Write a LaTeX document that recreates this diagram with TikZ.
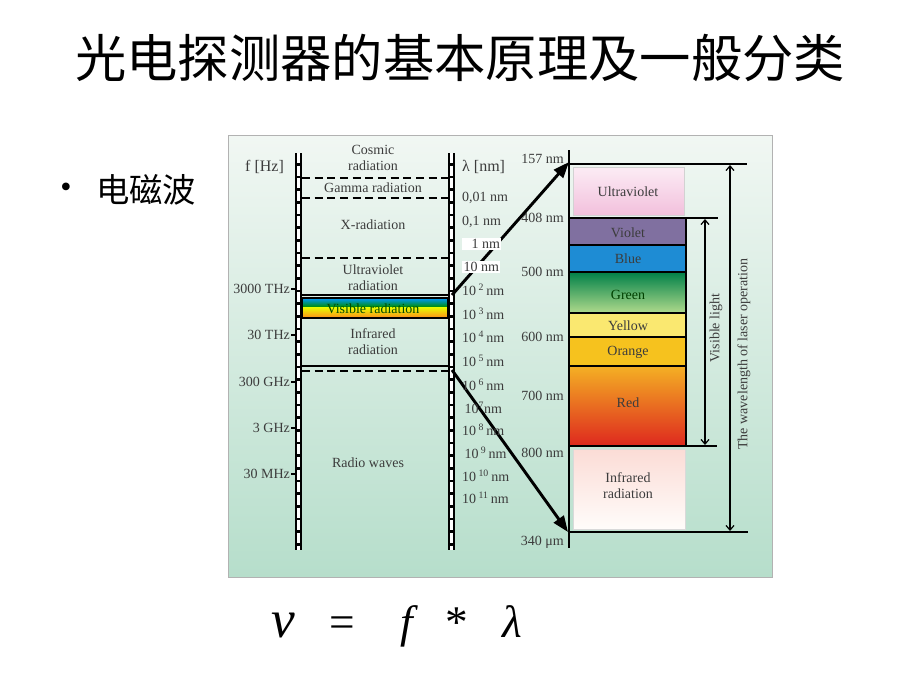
\documentclass[tikz,border=0pt]{standalone}
\usepackage{fontspec}
\setmainfont{Liberation Serif}
\newfontfamily\cjk{Noto Sans CJK SC}
\usetikzlibrary{arrows.meta}
%
\definecolor{bgtop}{RGB}{241,247,243}
\definecolor{bgbot}{RGB}{182,222,203}
\definecolor{txtgray}{RGB}{60,60,60}
\definecolor{uvtop}{RGB}{252,236,245}
\definecolor{uvbot}{RGB}{242,192,220}
\definecolor{violetc}{RGB}{128,112,160}
\definecolor{bluec}{RGB}{30,140,212}
\definecolor{greentop}{RGB}{0,128,72}
\definecolor{greenbot}{RGB}{176,218,140}
\definecolor{yellowc}{RGB}{250,232,112}
\definecolor{orangec}{RGB}{246,194,30}
\definecolor{redtop}{RGB}{244,176,36}
\definecolor{redmid}{RGB}{236,120,52}
\definecolor{redbot}{RGB}{222,40,30}
\definecolor{irtop}{RGB}{251,220,214}
\definecolor{irbot}{RGB}{255,252,250}
%
\begin{document}
\begin{tikzpicture}
[
 x=0.75pt, y=-0.75pt,
 inner sep=0.5mm,
 LBL/.style={font=\fontsize{10.5}{12}\selectfont, text=txtgray, align=center},
 FREQ/.style={LBL, anchor=east},
 WAVE/.style={LBL, anchor=west},
 AXLBL/.style={LBL, anchor=east},
 RAIL/.style={line width=5.6pt, black},
 RAILGAP/.style={line width=1.8pt, white, dash pattern=on 7.5pt off 2pt},
 SEP/.style={line width=1.5pt, black},
 DASHSEP/.style={line width=1.5pt, black, dash pattern=on 6pt off 3.5pt},
 BIGARROW/.style={line width=2.2pt, -{Triangle[length=12pt,width=9pt]}},
 DIMARROW/.style={line width=0.9pt, {Straight Barb[length=3.5pt,width=6pt]}-{Straight Barb[length=3.5pt,width=6pt]}},
 ]
\useasboundingbox (0,0) rectangle (920,690);
%
\node (title) at (460,58) {\cjk\fontsize{38.5}{40}\selectfont 光电探测器的基本原理及一般分类};
\node (dot)   at (66,190) {\fontsize{24}{26}\selectfont •};
\node (emw)   at (146,190) {\cjk\fontsize{25}{28}\selectfont 电磁波};
%
% panel
\shade[top color=bgtop, bottom color=bgbot, draw=gray!60, line width=0.75pt] (228,135) rectangle (772,577);
%
% ladder
\foreach \x in {298.5,451.5}
   {
     \draw[RAIL]    (\x,153) -- (\x,550);
     \draw[RAILGAP] (\x,153) -- (\x,550);
   }
\draw[DASHSEP] (302,178) -- (448,178);
\draw[DASHSEP] (302,198) -- (448,198);
\draw[DASHSEP] (302,258) -- (448,258);
\draw[SEP]     (302,295) -- (448,295);
\shade[top color=cyan!60!blue, bottom color=green!55!black] (302,298) rectangle (448,307);
\shade[top color=yellow!90!green, bottom color=orange!90] (302,307) rectangle (448,318);
\draw[line width=1pt] (302,298) rectangle (448,318);
\draw[SEP]     (302,366) -- (448,366);
\draw[DASHSEP] (302,371) -- (448,371);
%
\foreach \y in {289,335,382,428,474}
   {
     \draw[line width=1pt] (291,\y) -- (295,\y);
   }
%
\node[LBL] (cosmic) at (373,158) {Cosmic\\radiation};
\node[LBL] (gamma)  at (373,188) {Gamma radiation};
\node[LBL] (xray)   at (373,225) {X-radiation};
\node[LBL] (uv)     at (373,278) {Ultraviolet\\radiation};
\node[LBL, text=black!70!green] (vis) at (373,309) {Visible radiation};
\node[LBL] (ir)     at (373,342) {Infrared\\radiation};
\node[LBL] (radio)  at (368,463) {Radio waves};
%
\node[FREQ] (fhz) at (286,167) {\fontsize{12}{14}\selectfont f [Hz]};
\node[FREQ] (f1)  at (292,289) {3000 THz};
\node[FREQ] (f2)  at (292,335) {30 THz};
\node[FREQ] (f3)  at (292,382) {300 GHz};
\node[FREQ] (f4)  at (292,428) {3 GHz};
\node[FREQ] (f5)  at (292,474) {30 MHz};
%
% right scale
\draw[line width=2.2pt] (569,150) -- (569,548);
\shade[top color=uvtop, bottom color=uvbot, draw=gray!35] (573,167) rectangle (684,215);
\fill[violetc] (569,218) rectangle (686,245);
\fill[bluec]   (569,245) rectangle (686,272);
\shade[top color=greentop, middle color=green!50!greentop, bottom color=greenbot] (569,272) rectangle (686,313);
\fill[yellowc] (569,314) rectangle (686,337);
\fill[orangec] (569,337) rectangle (686,366);
\shade[top color=redtop, middle color=redmid, bottom color=redbot] (569,366) rectangle (686,446);
\shade[top color=irtop, bottom color=irbot, draw=gray!30] (573,449) rectangle (685,529);
\draw[line width=1.5pt] (569,218) rectangle (686,446);
\foreach \y in {245,272,313,337,366}
   {
     \draw[line width=1.5pt] (569,\y) -- (686,\y);
   }
\draw[line width=1.1pt] (569,164) -- (747,164);
\draw[line width=1.1pt] (569,218) -- (718,218);
\draw[line width=1.1pt] (569,446) -- (717,446);
\draw[line width=1.1pt] (569,532) -- (748,532);
%
\coordinate (visTop) at (705,219);
\coordinate (visBot) at (705,445);
\coordinate (lasTop) at (730,165);
\coordinate (lasBot) at (730,531);
\draw[DIMARROW] (visTop) -- (visBot);
\draw[DIMARROW] (lasTop) -- (lasBot);
\node[LBL, rotate=90] (vislight) at (716,328) {Visible light};
\node[LBL, rotate=90] (laser)    at (744,354) {The wavelength of laser operation};
%
\node[LBL] (cuv)  at (628,192) {Ultraviolet};
\node[LBL] (cvio) at (628,233) {Violet};
\node[LBL] (cblu) at (628,259) {Blue};
\node[LBL, text=green!25!black] (cgre) at (628,295) {Green};
\node[LBL] (cyel) at (628,326) {Yellow};
\node[LBL] (cora) at (628,352) {Orange};
\node[LBL] (cred) at (628,403) {Red};
\node[LBL] (cir)  at (628,486) {Infrared\\radiation};
%
\node[AXLBL] (a157) at (566,159) {157 nm};
\node[AXLBL] (a408) at (566,218) {408 nm};
\node[AXLBL] (a500) at (566,272) {500 nm};
\node[AXLBL] (a600) at (566,337) {600 nm};
\node[AXLBL] (a700) at (566,396) {700 nm};
\node[AXLBL] (a800) at (566,453) {800 nm};
\node[AXLBL] (a340) at (566,542) {340 μm};
%
% zoom arrows
\coordinate (uvStart) at (452,295);
\coordinate (uvEnd)   at (569,162);
\coordinate (irStart) at (452,370);
\coordinate (irEnd)   at (568,532);
\draw[BIGARROW] (uvStart) -- (uvEnd);
\draw[BIGARROW] (irStart) -- (irEnd);
%
\node[WAVE] (lnm) at (460,167) {\fontsize{12}{14}\selectfont λ [nm]};
\foreach \y/\t [count=\i] in {198/{0,01 nm}, 222/{0,1 nm}, 290/{10\,\textsuperscript{2}\,nm}, 314/{10\,\textsuperscript{3}\,nm}, 337/{10\,\textsuperscript{4}\,nm}, 361/{10\,\textsuperscript{5}\,nm}, 385/{10\,\textsuperscript{6}\,nm}, 408/{\,10\textsuperscript{7}nm}, 430/{10\,\textsuperscript{8}\,nm}, 453/{\,10\,\textsuperscript{9}\,nm}, 476/{10\,\textsuperscript{10}\,nm}, 498/{10\,\textsuperscript{11}\,nm}}
   {
     \node[WAVE] (w\i) at (460,\y) {\t};
   }
\node[WAVE, fill=white, inner sep=1pt] (w1nm)  at (462,244) {\hspace{6pt}1 nm};
\node[WAVE, fill=white, inner sep=1pt] (w10nm) at (462,267) {10 nm};
%
% formula
\node[anchor=base] (nu)  at (283,637) {\fontsize{40}{42}\selectfont\itshape ν};
\node[anchor=base] (eq)  at (342,637) {\fontsize{34}{36}\selectfont =};
\node[anchor=base] (ff)  at (407,637) {\fontsize{34}{36}\selectfont\itshape f};
\node[anchor=base] (ast) at (457,637) {\fontsize{34}{36}\selectfont *};
\node[anchor=base] (lam) at (512,637) {\fontsize{34}{36}\selectfont\itshape λ};
\end{tikzpicture}
\end{document}
